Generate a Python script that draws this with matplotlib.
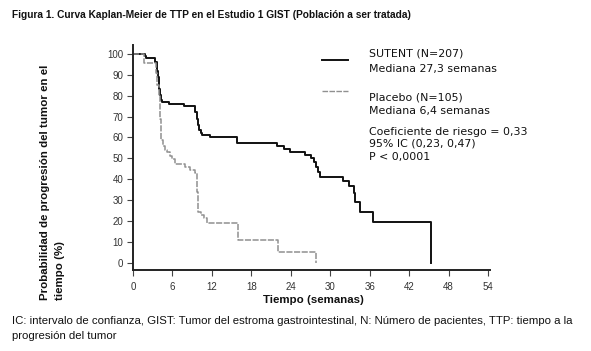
import matplotlib
matplotlib.use("Agg")
import matplotlib.pyplot as plt
from matplotlib.lines import Line2D

# ---- data ----
sutent_t = [0, 1.8, 2.0, 3.4, 3.6, 3.7, 3.8, 3.9, 4.0, 4.1, 4.2, 4.3, 4.4, 5.4,
            7.7, 9.5, 9.7, 9.9, 10.1, 10.3, 10.5, 11.7, 15.8, 21.9, 22.9, 23.9,
            26.2, 27.0, 27.6, 27.9, 28.2, 28.5, 32.0, 32.8, 33.6, 33.8, 34.6,
            36.5, 45.4]
sutent_s = [100, 99, 98.2, 96, 94, 92, 89, 86, 83, 80.5, 79, 78, 77, 76,
            75.3, 72, 69, 66, 63.5, 62, 61, 60, 57.2, 56, 54.4, 53,
            51.6, 50, 48.2, 45.8, 43.4, 41.2, 39.3, 36.8, 33.2, 29.2, 24.4,
            19.6, 0]

placebo_t = [0, 1.7, 3.5, 3.7, 3.9, 4.1, 4.3, 4.6, 4.9, 5.2, 5.6, 6.0, 6.4,
             7.9, 8.6, 9.4, 9.8, 9.9, 10.3, 10.8, 11.2, 15.9, 22.0, 27.85]
placebo_s = [100, 95.5, 91, 85, 80, 69, 59, 56, 54, 53, 51, 49.5, 47.3,
             46, 44.4, 42.8, 34, 24.4, 22.8, 21.2, 19.2, 10.7, 5.3, 0]

x_ticks = [0, 6, 12, 18, 24, 30, 36, 42, 48, 54]
y_ticks = [0, 10, 20, 30, 40, 50, 60, 70, 80, 90, 100]

title = "Figura 1. Curva Kaplan-Meier de TTP en el Estudio 1 GIST (Población a ser tratada)"
xlabel = "Tiempo (semanas)"
ylabel1 = "Probabilidad de progresión del tumor en el"
ylabel2 = "tiempo (%)"
legend_lines = ["SUTENT (N=207)", "Mediana 27,3 semanas",
                "Placebo (N=105)", "Mediana 6,4 semanas",
                "Coeficiente de riesgo = 0,33", "95% IC (0,23, 0,47)", "P < 0,0001"]
footer1 = ("IC: intervalo de confianza, GIST: Tumor del estroma gastrointestinal, "
           "N: Número de pacientes, TTP: tiempo a la")
footer2 = "progresión del tumor"

W, H = 591, 351
NARROW = ["Liberation Sans Narrow", "Liberation Sans", "DejaVu Sans"]
VERD = ["DejaVu Sans"]
ARIAL = ["Liberation Sans", "DejaVu Sans"]

fig = plt.figure(figsize=(W / 100, H / 100), dpi=100)
fig.patch.set_facecolor("white")

def px(x, y):
    return x / W, 1 - y / H

ax_l, ax_r, ax_t, ax_b = 133, 490, 45, 270
ax = fig.add_axes([ax_l / W, 1 - ax_b / H, (ax_r - ax_l) / W, (ax_b - ax_t) / H])

ax.step(sutent_t, sutent_s, where="post", color="#111111", lw=1.4)
ax.step(placebo_t, placebo_s, where="post", color="#909090", lw=1.1,
        linestyle=(0, (4, 1)))

ax.set_xlim(0, 54.3)
ax.set_ylim(-3.5, 104.3)
ax.set_xticks(x_ticks)
ax.set_yticks(y_ticks)
for s in ["top", "right"]:
    ax.spines[s].set_visible(False)
for s in ["left", "bottom"]:
    ax.spines[s].set_linewidth(1.4)
    ax.spines[s].set_color("#222222")
ax.tick_params(axis="both", direction="out", length=4, width=0.8, color="#444444",
               labelsize=7, labelcolor="#333333")
ax.tick_params(axis="x", pad=5)
ax.tick_params(axis="y", pad=3)
for lab in ax.get_xticklabels() + ax.get_yticklabels():
    lab.set_family(NARROW)

fig.canvas.draw()
renderer = fig.canvas.get_renderer()

def fit(t, target, use_height=False):
    bb = t.get_window_extent(renderer)
    cur = bb.height if use_height else bb.width
    t.set_fontsize(t.get_fontsize() * target / cur)

# title
t_title = fig.text(*px(12, 15), title, family=NARROW, weight="bold", fontsize=9,
                   ha="left", va="center", color="#111111")
fit(t_title, 398)

# axis labels
t_x = fig.text(*px(313, 300), xlabel, family=ARIAL, weight="bold", fontsize=8,
               ha="center", va="center", color="#111111")
fit(t_x, 101)
t_y1 = fig.text(*px(45, 300), ylabel1, family=ARIAL, weight="bold", fontsize=8,
                rotation=90, ha="center", va="bottom", color="#111111")
fit(t_y1, 235, use_height=True)
t_y2 = fig.text(*px(60, 300), ylabel2, family=ARIAL, weight="bold",
                fontsize=t_y1.get_fontsize(), rotation=90, ha="center", va="bottom",
                color="#111111")

# legend text
ys = [53, 69, 97, 111, 132, 144, 157]
txts = []
for lab, y in zip(legend_lines, ys):
    txts.append(fig.text(*px(369, y), lab, family=VERD, fontsize=8,
                         ha="left", va="center", color="#111111"))
fig.canvas.draw()
bb = txts[4].get_window_extent(renderer)
scale = 157 / bb.width
for t in txts:
    t.set_fontsize(t.get_fontsize() * scale)

# legend line samples
fig.add_artist(Line2D([322 / W, 348 / W], [1 - 59.5 / H] * 2, color="#111111", lw=1.4))
fig.add_artist(Line2D([322 / W, 348 / W], [1 - 90.5 / H] * 2, color="#909090", lw=1.0,
                      linestyle=(0, (4, 1))))

# footer
t_f1 = fig.text(*px(12, 321), footer1, family=NARROW, fontsize=8, ha="left",
                va="center", color="#111111")
fit(t_f1, 565)
t_f2 = fig.text(*px(12, 336), footer2, family=NARROW, fontsize=t_f1.get_fontsize(),
                ha="left", va="center", color="#111111")

fig.savefig("out.png", dpi=100, facecolor="white")
